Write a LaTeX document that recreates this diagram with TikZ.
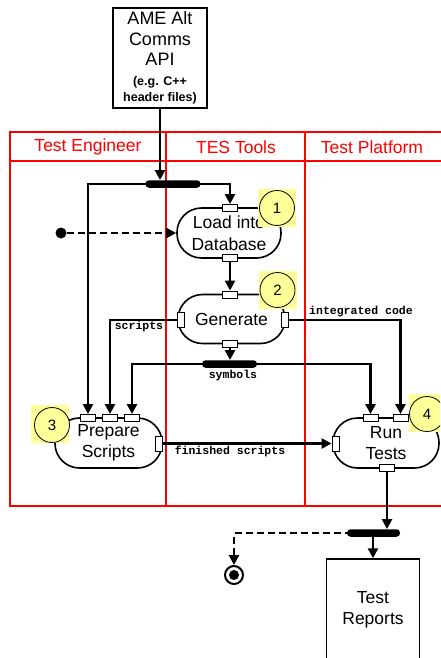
\documentclass[tikz,border=0pt]{standalone}
\usepackage{fontspec}
\setmainfont{Liberation Sans}
\setmonofont{Liberation Mono}
\usetikzlibrary{arrows.meta}
\definecolor{lanered}{RGB}{255,0,0}
\definecolor{badgey}{RGB}{255,255,153}
\pgfdeclarelayer{lanes}
\pgfdeclarelayer{edges}
\pgfsetlayers{lanes,edges,main}
\begin{document}
\begin{tikzpicture}[x=1pt,y=-1pt,
 lane/.style={draw=lanered, line width=1.5pt},
 lanetitle/.style={text=lanered, inner sep=0pt, font=\fontsize{17.5}{20}\selectfont},
 act/.style={draw, line width=1.6pt, fill=white, rounded corners=24.5pt, minimum width=#1, minimum height=50pt, inner sep=0pt, align=center, font=\fontsize{17.5}{21.5}\selectfont},
 pinh/.style={draw, fill=white, line width=0.9pt, minimum width=15pt, minimum height=7pt, inner sep=0pt},
 pinv/.style={draw, fill=white, line width=0.9pt, minimum width=7pt, minimum height=15pt, inner sep=0pt},
 flow/.style={line width=2.8pt, -{Triangle[length=10pt,width=10pt]}},
 dflow/.style={line width=2.8pt, dash pattern=on 7pt off 4pt, -{Triangle[length=10pt,width=10pt]}},
 forkbar/.style={fill=black, rounded corners=3.5pt, minimum width=#1, minimum height=7.5pt, inner sep=0pt},
 badge/.style={circle, draw, fill=badgey, line width=0.8pt, minimum size=35pt, inner sep=0pt, font=\fontsize{15}{15}\selectfont},
 badgebg/.style={fill=badgey, minimum size=38pt, inner sep=0pt},
 flab/.style={font=\ttfamily\bfseries\fontsize{11.5}{12}\selectfont, inner sep=0pt},
 docbox/.style={draw, line width=1.5pt, fill=white, inner sep=0pt, align=center}
]
\useasboundingbox (0,0) rectangle (440,658);
\clip (0,0) rectangle (440,658);

% swimlanes
\begin{pgfonlayer}{lanes}
\draw[lane] (10,132) rectangle (446,506);
\draw[lane] (10,161) -- (446,161);
\draw[lane] (166,132) -- (166,506);
\draw[lane] (305,132) -- (305,506);
\end{pgfonlayer}
\node[lanetitle] (lt1) at (88,147) {Test Engineer};
\node[lanetitle] (lt2) at (236,147) {TES Tools};
\node[lanetitle] (lt3) at (372,147) {Test Platform};

% object boxes
\node[docbox, minimum width=94pt, minimum height=100pt, font=\fontsize{18}{20.5}\selectfont] (api) at (160,58)
  {AME Alt\\Comms\\API\\[-1pt]{\fontsize{12.5}{14}\selectfont\bfseries (e.g. C++}\\[-4.5pt]{\fontsize{12.5}{14}\selectfont\bfseries header files)}};
\node[docbox, minimum width=93pt, minimum height=110pt] (reports) at (373,614) {};
\node[font=\fontsize{17.5}{21.5}\selectfont, align=center, inner sep=0pt] (reptext) at (373,610) {Test\\Reports};

% bars, initial and final
\node[forkbar=55pt] (fork1) at (173,184) {};
\node[forkbar=55pt] (symbar) at (229.5,364) {};
\node[forkbar=53pt] (fork2) at (373.5,533) {};

\node[circle, fill=black, minimum size=11pt, inner sep=0pt] (init) at (61,233) {};
\node[circle, draw, line width=2pt, fill=white, minimum size=18pt, inner sep=0pt] (final) at (234,575) {};
\node[circle, fill=black, minimum size=10pt, inner sep=0pt] (finalin) at (final.center) {};

% activities
\node[act=104pt] (load) at (229,233) {Load into\\Database};
\node[act=107pt, minimum height=49pt] (gen) at (231.5,319) {Generate};
\node[act=107pt] (prep) at (108.5,443) {Prepare\\Scripts};
\node[act=106pt] (run) at (386,443) {Run\\Tests};

% pins
\node[pinh] (ldT) at (230,208) {};
\node[pinh] (ldB) at (230,258) {};
\node[pinh] (gnT) at (230,294.5) {};
\node[pinh] (gnB) at (230,343.5) {};
\node[pinv] (gnL) at (180.5,320) {};
\node[pinv] (gnR) at (285,320) {};
\node[pinh] (ps1) at (88,418) {};
\node[pinh] (ps2) at (110,418) {};
\node[pinh] (ps3) at (132,418) {};
\node[pinv] (psR) at (158.5,443.5) {};
\node[pinh] (rt1) at (370.5,418) {};
\node[pinh] (rt2) at (400.5,418) {};
\node[pinv] (rtL) at (335.5,443.5) {};
\node[pinh] (rtB) at (387,468) {};

% connectors
\begin{pgfonlayer}{edges}
\draw[flow] (api.south) -- (api.south |- fork1.north);
\draw[flow] (fork1.center) -| (ps1.north);
\draw[flow] (fork1.center) -| (ldT.north);
\draw[dflow] (init) -- (load.west |- init);
\draw[flow] (ldB.south) -- (gnT.north);
\draw[flow] (gnL.west) -| (ps2.north);
\draw[flow] (gnR.east) -| (rt2.north);
\draw[flow] (gnB.south) -- (gnB.south |- symbar.north);
\draw[flow] (symbar.center) -| (ps3.north);
\draw[flow] (symbar.center) -| (rt1.north);
\draw[flow] (psR.east) -- (rtL.west);
\draw[flow] (rtB.south) -- (rtB.south |- fork2.north);
\draw[flow] (fork2.center -| reports.north) -- (reports.north);
\draw[dflow] (fork2.center) -| (final.north);
\end{pgfonlayer}

% labels
\node[flab] (lscr) at (139,327) {scripts};
\node[flab] (lint) at (361,312) {integrated code};
\node[flab] (lsym) at (233,376) {symbols};
\node[flab] (lfin) at (230,451) {finished scripts};

% badges
\node[badgebg] (b1bg) at (276.5,208) {};
\node[badge] (b1) at (277,208) {1};
\node[badgebg] (b2bg) at (277.5,290) {};
\node[badge] (b2) at (277.5,290) {2};
\node[badgebg] (b3bg) at (49.5,424) {};
\node[badge] (b3) at (52,425) {3};
\node[badgebg] (b4bg) at (428,413) {};
\node[badge] (b4) at (427,414) {4};
\end{tikzpicture}
\end{document}
